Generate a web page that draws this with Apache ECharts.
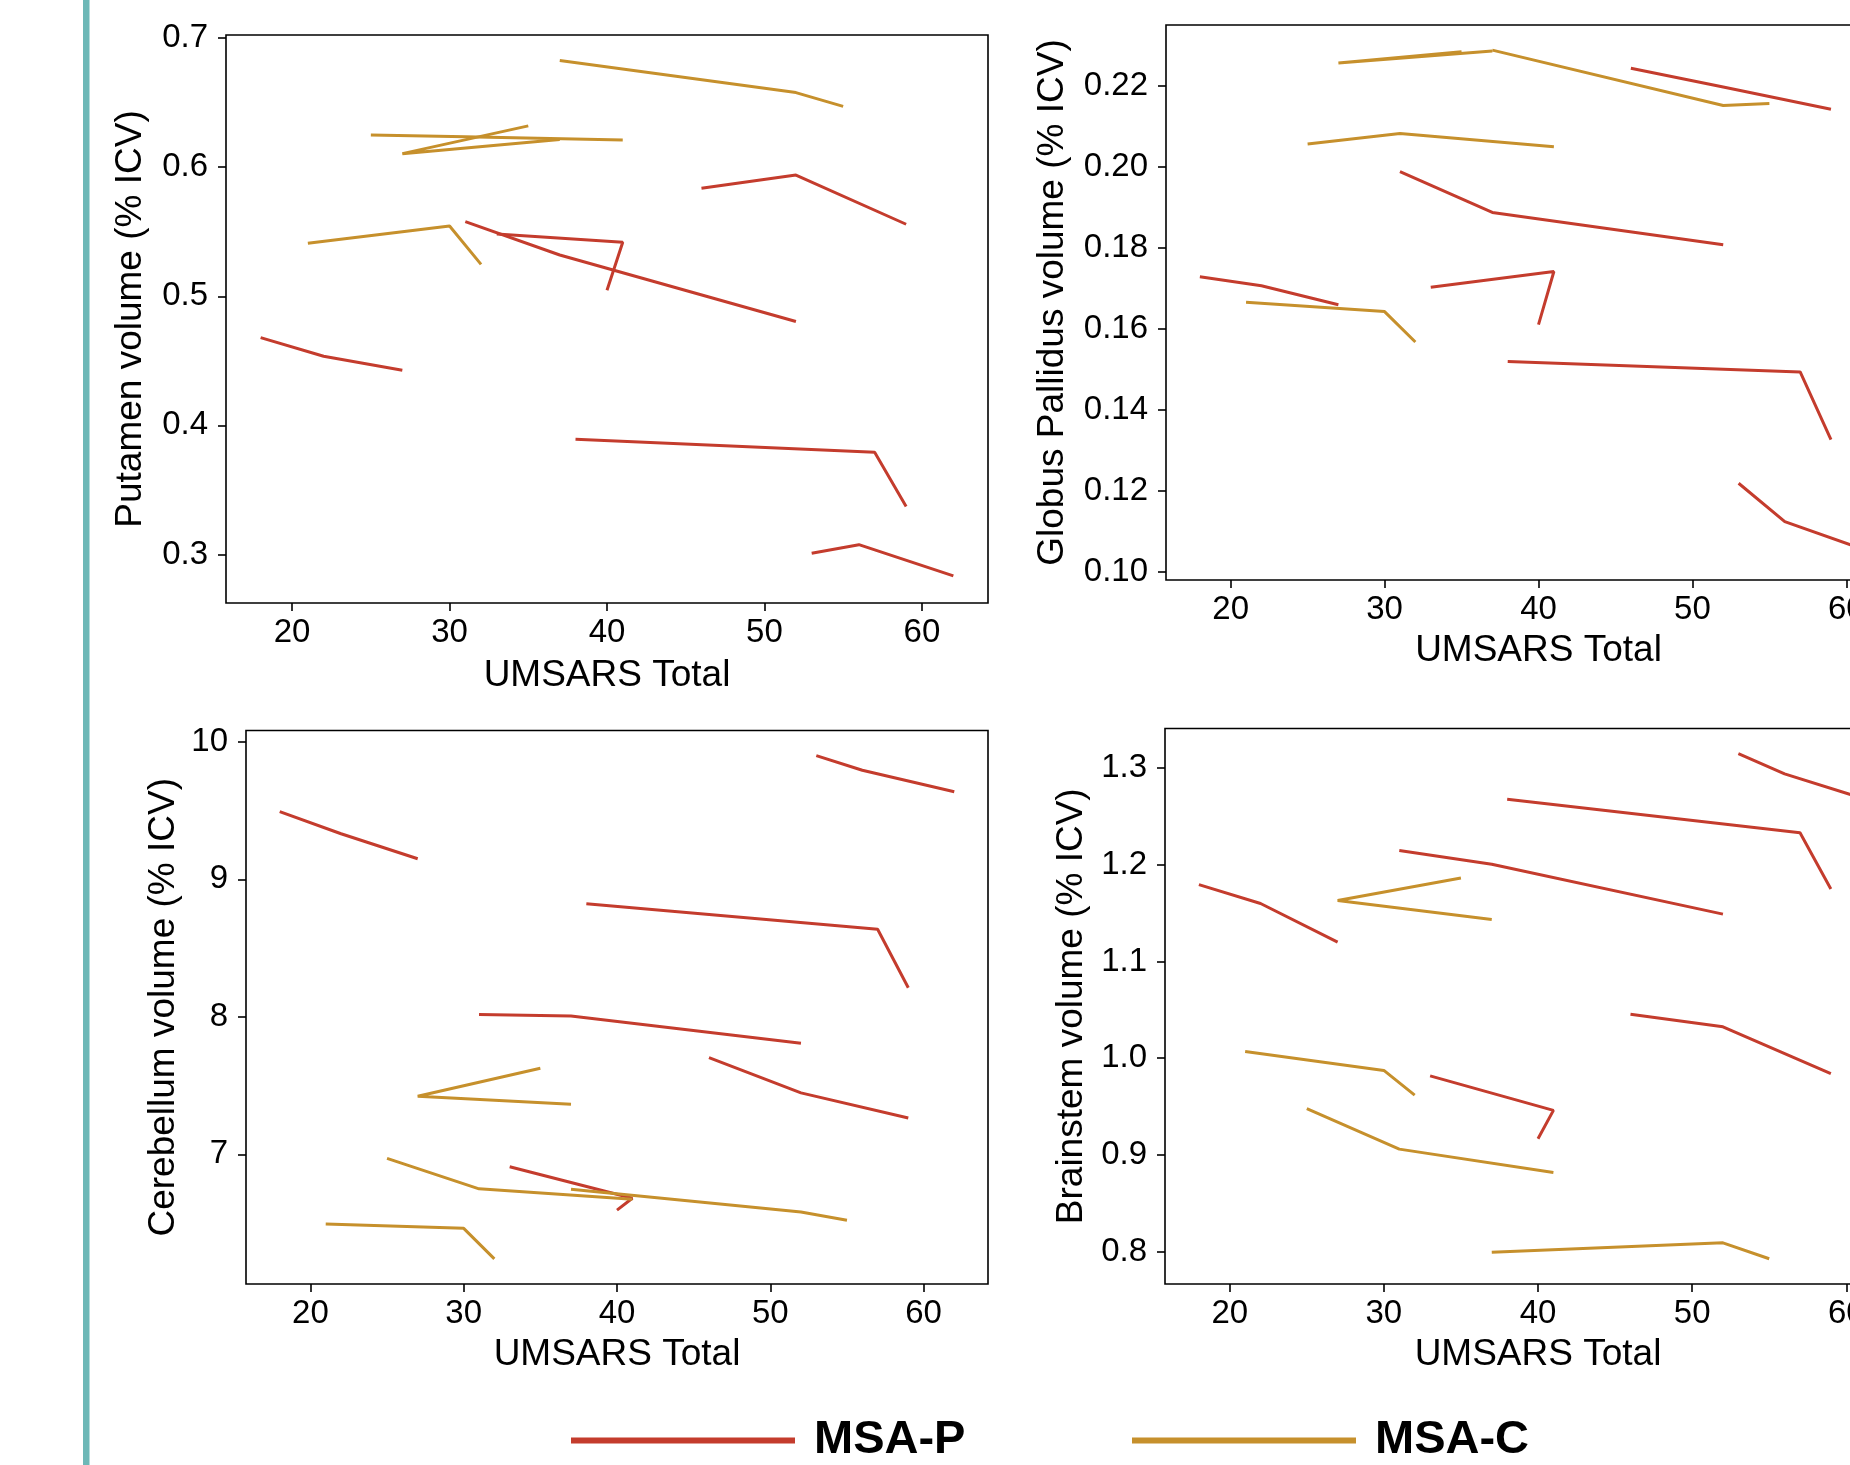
<!DOCTYPE html>
<html>
<head>
<meta charset="utf-8">
<title>UMSARS vs regional volume</title>
<script src="https://cdn.jsdelivr.net/npm/echarts@6/dist/echarts.min.js"></script>
<style>
  html, body { margin: 0; padding: 0; background: #fff; }
  #chart { width: 1850px; height: 1465px; }
</style>
</head>
<body>
<div id="chart"></div>
<script>
// UMSARS total at each visit, one row per subject
const umsarsP = [[18, 22, 27], [31, 37, 52], [33, 41, 40], [38, 57, 59], [46, 52, 59], [53, 56, 62]];
const umsarsC = [[21, 30, 32], [25, 31, 41], [35, 27, 37], [37, 52, 55]];

// volumes (% ICV), same subject order as above
const putamenP = [[0.468, 0.4535, 0.4427], [0.5578, 0.532, 0.4805], [0.5483, 0.5419, 0.5047],
  [0.3892, 0.3791, 0.3372], [0.5837, 0.5939, 0.5558], [0.3009, 0.3076, 0.2834]];
const putamenC = [[0.541, 0.5544, 0.5247], [0.625, 0.6235, 0.621], [0.632, 0.6105, 0.6215], [0.6826, 0.6578, 0.6471]];

const pallidusP = [[0.1728, 0.1706, 0.1659], [0.1988, 0.1887, 0.1807], [0.1702, 0.1741, 0.1610],
  [0.1519, 0.1493, 0.1326], [0.2243, 0.2197, 0.2142], [0.1218, 0.1123, 0.1043]];
const pallidusC = [[0.1665, 0.1642, 0.1567], [0.2056, 0.2082, 0.2049], [0.2284, 0.2256, 0.2286], [0.2288, 0.2151, 0.2156]];

const cerebellumP = [[9.493, 9.332, 9.150], [8.017, 8.006, 7.808], [6.910, 6.681, 6.594],
  [8.822, 8.637, 8.212], [7.703, 7.447, 7.264], [9.90, 9.794, 9.638]];
const cerebellumC = [[6.493, 6.462, 6.240], [6.971, 6.749, 6.673], [7.626, 7.423, 7.365], [6.747, 6.580, 6.520]];

const brainstemP = [[1.1795, 1.160, 1.120], [1.2148, 1.2005, 1.149], [0.9817, 0.946, 0.9167],
  [1.2677, 1.2332, 1.175], [1.0455, 1.0324, 0.9839], [1.315, 1.294, 1.264]];
const brainstemC = [[1.0068, 0.9873, 0.9618], [0.9479, 0.9059, 0.8818], [1.1863, 1.163, 1.1435], [0.7992, 0.8090, 0.7925]];

// tick labels
const xTicks = [20, 30, 40, 50, 60];
const putamenTicks = [0.3, 0.4, 0.5, 0.6, 0.7];
const pallidusTicks = [0.10, 0.12, 0.14, 0.16, 0.18, 0.20, 0.22];
const cerebellumTicks = [7, 8, 9, 10];
const brainstemTicks = [0.8, 0.9, 1.0, 1.1, 1.2, 1.3];

const RED = '#c43c2d';
const GOLD = '#c6902c';
const FONT = '"Liberation Sans", Arial, sans-serif';

// right-hand panels run past the page edge, as in the original figure
const panels = [
  { title: 'Putamen volume (% ICV)', p: putamenP, c: putamenC, ticks: putamenTicks, digits: 1,
    min: 0.2624, max: 0.7024, grid: { left: 226, top: 35, width: 762, height: 568 }, gap: 77, xGap: 54 },
  { title: 'Globus Pallidus volume (% ICV)', p: pallidusP, c: pallidusC, ticks: pallidusTicks, digits: 2,
    min: 0.0979, max: 0.2350, grid: { left: 1166, top: 25, width: 745, height: 555 }, gap: 95, xGap: 52 },
  { title: 'Cerebellum volume (% ICV)', p: cerebellumP, c: cerebellumC, ticks: cerebellumTicks, digits: 0,
    min: 6.057, max: 10.083, grid: { left: 246, top: 730.5, width: 742, height: 553.5 }, gap: 64, xGap: 52 },
  { title: 'Brainstem volume (% ICV)', p: brainstemP, c: brainstemC, ticks: brainstemTicks, digits: 1,
    min: 0.7664, max: 1.341, grid: { left: 1165, top: 728.5, width: 746, height: 555.5 }, gap: 75, xGap: 52 }
];

const tickStyle = { show: true, inside: false, length: 8, lineStyle: { color: '#000', width: 1.6 } };
const labelStyle = { color: '#000', fontFamily: FONT, fontSize: 33 };
const nameStyle = { color: '#000', fontFamily: FONT, fontSize: 37 };

const grids = [], xAxes = [], yAxes = [], series = [];

panels.forEach((pn, k) => {
  grids.push(Object.assign({
    show: true, borderColor: '#000', borderWidth: 1.6, backgroundColor: '#fff',
    containLabel: false, outerBoundsMode: 'none'
  }, pn.grid));
  xAxes.push({
    type: 'value', gridIndex: k, min: 15.8, max: 64.2,
    name: 'UMSARS Total', nameLocation: 'middle', nameGap: pn.xGap, nameTextStyle: nameStyle,
    axisLine: { show: false }, splitLine: { show: false },
    axisTick: Object.assign({ customValues: xTicks }, tickStyle),
    axisLabel: Object.assign({ customValues: xTicks, margin: 13 }, labelStyle)
  });
  yAxes.push({
    type: 'value', gridIndex: k, min: pn.min, max: pn.max,
    name: pn.title, nameLocation: 'middle', nameRotate: 90, nameGap: pn.gap, nameTextStyle: nameStyle,
    axisLine: { show: false }, splitLine: { show: false },
    axisTick: Object.assign({ customValues: pn.ticks }, tickStyle),
    axisLabel: Object.assign({
      customValues: pn.ticks, margin: 18,
      formatter: (v) => v.toFixed(pn.digits)
    }, labelStyle)
  });
  const add = (name, color, xs, ys) => {
    xs.forEach((row, i) => {
      series.push({
        type: 'line', name: name, xAxisIndex: k, yAxisIndex: k,
        data: row.map((x, j) => [x, ys[i][j]]),
        symbol: 'none', color: color, silent: true,
        lineStyle: { color: color, width: 3 }
      });
    });
  };
  add('MSA-P', RED, umsarsP, pn.p);
  add('MSA-C', GOLD, umsarsC, pn.c);
});

const legendText = { color: '#000', fontFamily: FONT, fontSize: 47, fontWeight: 'bold', padding: [0, 0, 0, 14] };

const chart = echarts.init(document.getElementById('chart'), null, { renderer: 'canvas' });
chart.setOption({
  backgroundColor: '#fff',
  animation: false,
  grid: grids,
  xAxis: xAxes,
  yAxis: yAxes,
  legend: [
    { data: ['MSA-P'], left: 571, top: 1417, icon: 'rect', itemWidth: 224, itemHeight: 6,
      selectedMode: false, textStyle: legendText, padding: 0 },
    { data: ['MSA-C'], left: 1132, top: 1417, icon: 'rect', itemWidth: 224, itemHeight: 6,
      selectedMode: false, textStyle: legendText, padding: 0 }
  ],
  graphic: [
    { type: 'rect', left: 83, top: 0, shape: { width: 6.5, height: 1465 }, style: { fill: '#6db8b7' }, silent: true }
  ],
  series: series
});
</script>
</body>
</html>
